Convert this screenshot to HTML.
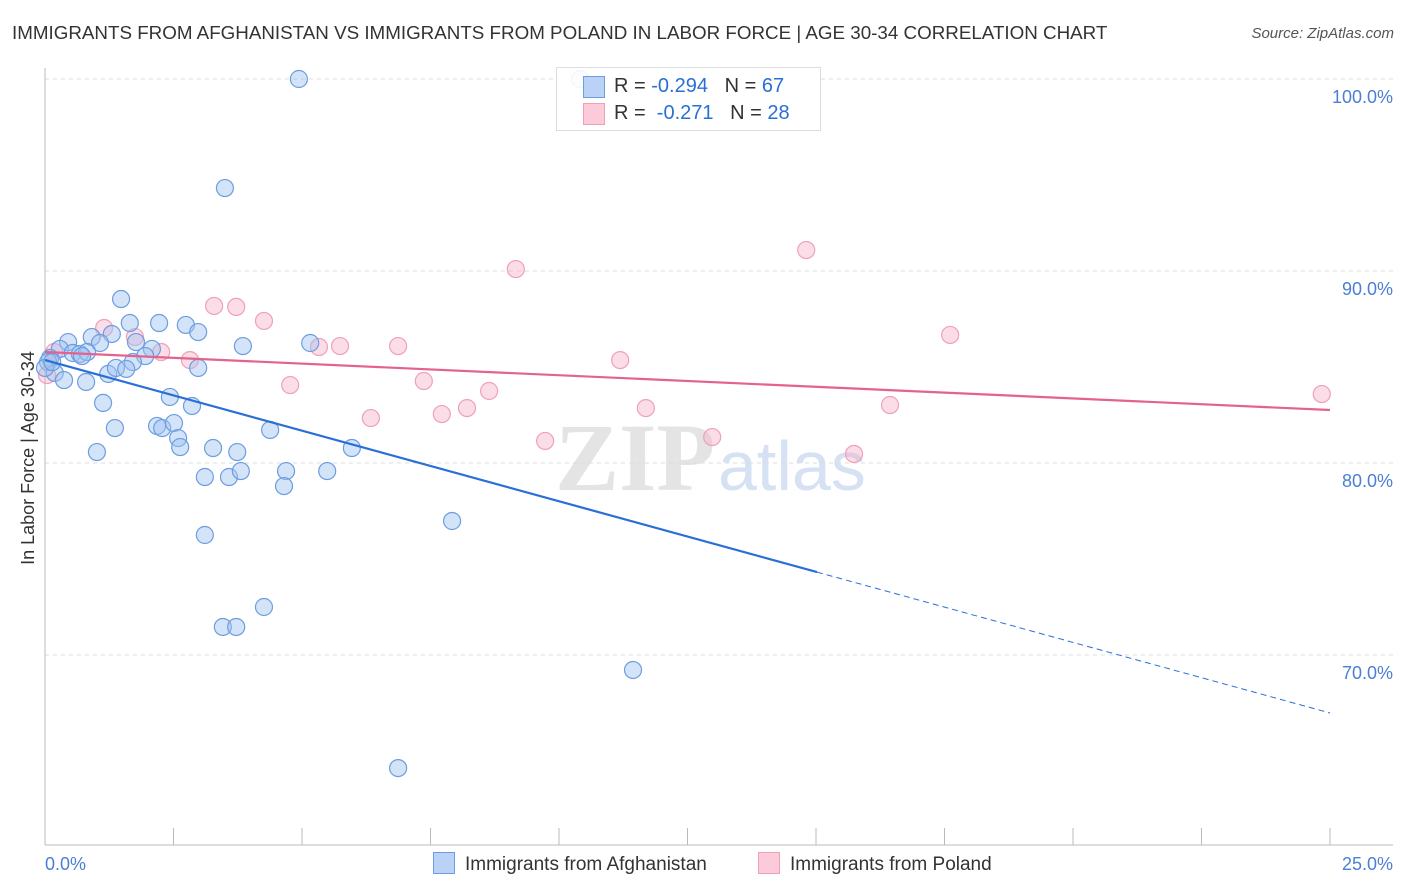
<!DOCTYPE html>
<html><head><meta charset="utf-8"><style>
body{margin:0;background:#fff;font-family:"Liberation Sans",sans-serif;}
#c{position:relative;width:1406px;height:892px;overflow:hidden;}
.t{position:absolute;white-space:nowrap;}
</style></head><body>
<div id="c">
<div class="t" style="left:12px;top:22px;font-size:18.8px;color:#333">IMMIGRANTS FROM AFGHANISTAN VS IMMIGRANTS FROM POLAND IN LABOR FORCE | AGE 30-34 CORRELATION CHART</div>
<div class="t" style="right:12px;top:25px;font-size:15px;color:#555;font-style:italic">Source: ZipAtlas.com</div>
<svg id="s" width="1406" height="892" style="position:absolute;left:0;top:0"></svg>
</div>
<script>
const yTicks=[70,80,90,100];
const yTickLabels=["70.0%","80.0%","90.0%","100.0%"];
const xTickLabels=["0.0%","25.0%"];
const afgX=[4.94,3.50,1.48,2.22,2.74,2.98,1.65,0.91,1.30,0.45,1.07,1.77,5.16,3.85,2.08,1.95,1.71,0.29,0.54,0.68,0.10,0.06,0.19,0.37,0.80,1.23,1.38,1.58,2.98,2.43,1.13,2.86,1.36,2.18,2.28,2.51,2.59,2.63,4.38,1.01,3.27,3.74,5.97,3.11,3.58,3.81,4.69,4.65,5.49,7.92,3.11,4.26,3.46,3.72,11.44,6.87,10.41,0.0,0.14,0.82,0.72];
const afgY=[100,94.32,88.54,87.29,87.19,86.82,87.29,86.56,86.72,86.30,86.25,86.30,86.25,86.09,85.94,85.57,85.26,85.94,85.73,85.68,85.47,85.26,84.69,84.32,84.22,84.64,84.95,84.90,84.95,83.44,83.13,82.97,81.82,81.93,81.82,82.08,81.30,80.83,81.72,80.57,80.78,80.57,80.78,79.27,79.27,79.58,79.58,78.80,79.58,76.98,76.25,72.50,71.46,71.46,69.22,64.11,100,84.95,85.26,85.78,85.57];
const polX=[0.04,0.18,1.15,1.75,2.26,2.82,3.29,3.72,4.26,4.77,5.33,5.74,6.34,6.87,7.37,7.72,8.21,8.64,9.16,9.73,11.19,11.69,12.98,14.81,15.74,16.44,17.61,24.84];
const polY=[84.58,85.78,87.03,86.56,85.78,85.36,88.18,88.13,87.40,84.06,86.04,86.09,82.34,86.09,84.27,82.55,82.86,83.75,90.10,81.15,85.36,82.86,81.35,91.09,80.47,83.02,86.67,83.59];
const afgTrend=[85.36,66.98]; const afgSolidEnd=15.02;
const polTrend=[85.78,82.76];
const X=v=>45+v*51.4, Y=v=>79+(100-v)*19.2;
const s=document.getElementById('s'),NS='http://www.w3.org/2000/svg';
function el(t,a,p){const e=document.createElementNS(NS,t);for(const k in a)e.setAttribute(k,a[k]);(p||s).appendChild(e);return e;}
let w=el('text',{x:555,y:490,'font-size':96,'font-family':'Liberation Serif',fill:'#e4e4e4','font-weight':'bold'});w.textContent='ZIP';


w=el('text',{x:718,y:490,'font-size':70,'font-family':'Liberation Sans',fill:'#d6e2f3'});w.textContent='atlas';


yTicks.forEach((v,i)=>{
 const g=el('line',{x1:45,x2:1393,y1:Y(v),y2:Y(v),stroke:'#ddd','stroke-dasharray':'4,4'});
 
 
 const t=el('text',{x:1393,y:Y(v)+24,'text-anchor':'end','font-size':18,fill:'#4a7fd4','font-family':'Liberation Sans'});t.textContent=yTickLabels[i];
 
 
});
let a=el('line',{x1:45,x2:45,y1:68,y2:845,stroke:'#bbb'});


a=el('line',{x1:45,x2:1393,y1:845,y2:845,stroke:'#bbb'});


for(let i=0;i<=10;i++){const tk=el('line',{x1:X(i*2.5),x2:X(i*2.5),y1:828,y2:845,stroke:'#bbb'});
 
 }
[[45,'start',xTickLabels[0]],[1393,'end',xTickLabels[1]]].forEach(d=>{const t=el('text',{x:d[0],y:870,'text-anchor':d[1],'font-size':18,fill:'#4a7fd4','font-family':'Liberation Sans'});t.textContent=d[2];
 
 });
let yt=el('text',{x:34,y:458,'text-anchor':'middle','font-size':18,fill:'#333','font-family':'Liberation Sans',transform:'rotate(-90 34 458)'});yt.textContent='In Labor Force | Age 30-34';


polX.forEach((x,i)=>{const c=el('circle',{cx:X(x),cy:Y(polY[i]),r:8.5,fill:'rgba(246,170,195,0.4)',stroke:'#f0a0b8','stroke-width':1.2});
 
 });
afgX.forEach((x,i)=>{const c=el('circle',{cx:X(x),cy:Y(afgY[i]),r:8.5,fill:'rgba(160,195,240,0.45)',stroke:'#6c9de0','stroke-width':1.2});
 
 });
const slope=(afgTrend[1]-afgTrend[0])/25;
let l=el('line',{x1:X(0),y1:Y(afgTrend[0]),x2:X(afgSolidEnd),y2:Y(afgTrend[0]+slope*afgSolidEnd),stroke:'#2a6fd6','stroke-width':2.2});


l=el('line',{x1:X(afgSolidEnd),y1:Y(afgTrend[0]+slope*afgSolidEnd),x2:X(25),y2:Y(afgTrend[1]),stroke:'#2a6fd6','stroke-width':1,'stroke-dasharray':'6,4'});


l=el('line',{x1:X(0),y1:Y(polTrend[0]),x2:X(25),y2:Y(polTrend[1]),stroke:'#e4638e','stroke-width':2.2});


</script>
<div class="t" style="left:556px;top:67px;width:263px;height:62px;border:1px solid #ddd;background:rgba(255,255,255,0.9)">
 <div style="position:absolute;left:26px;top:8px;width:20px;height:20px;background:#b9d2f5;border:1px solid #6c9de0"></div>
 <div style="position:absolute;left:26px;top:35px;width:20px;height:20px;background:#fbcbd9;border:1px solid #f0a0b8"></div>
 <div class="t" style="left:57px;top:7px;font-size:20px;color:#333">R = <span style="color:#2a6fd6">-0.294</span>&nbsp;&nbsp;&nbsp;N = <span style="color:#2a6fd6">67</span></div>
 <div class="t" style="left:57px;top:34px;font-size:20px;color:#333">R = &nbsp;<span style="color:#2a6fd6">-0.271</span>&nbsp;&nbsp;&nbsp;N = <span style="color:#2a6fd6">28</span></div>
</div>
<div class="t" style="left:433px;top:852px;font-size:19px;color:#333"><span style="display:inline-block;width:20px;height:20px;background:#b9d2f5;border:1px solid #6c9de0;vertical-align:-4px;margin-right:10px"></span>Immigrants from Afghanistan</div>
<div class="t" style="left:758px;top:852px;font-size:19px;color:#333"><span style="display:inline-block;width:20px;height:20px;background:#fbcbd9;border:1px solid #f0a0b8;vertical-align:-4px;margin-right:10px"></span>Immigrants from Poland</div>
</body></html>
